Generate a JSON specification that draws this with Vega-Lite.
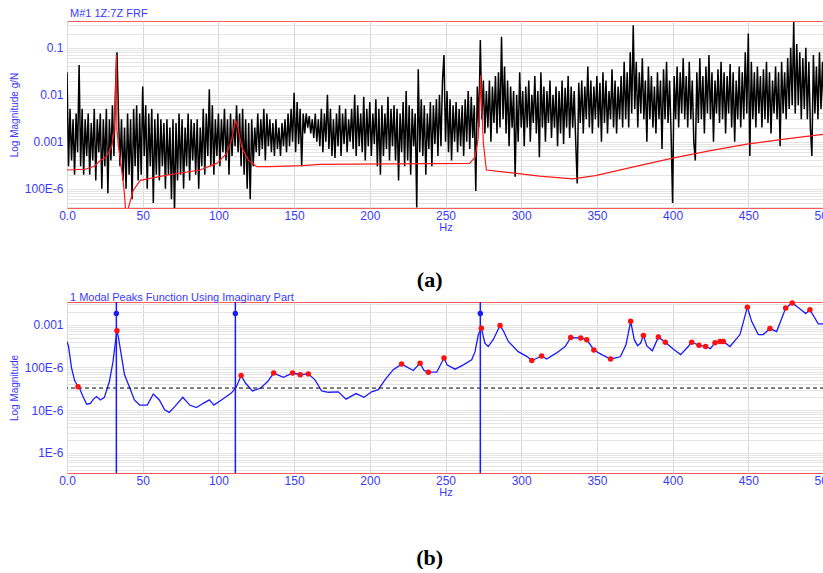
{
"$schema": "https://vega.github.io/schema/vega-lite/v6.json",
"background": "white",
"padding": {"left": 8, "top": 7, "right": 0, "bottom": 0},
"spacing": 0,
"config": {
  "view": {"stroke": "#ff5a5a", "strokeWidth": 1},
  "font": "Liberation Sans",
  "axis": {"labelColor": "#3a3aff", "titleColor": "#3a3aff", "labelFont": "Liberation Sans", "titleFont": "Liberation Sans", "labelFontSize": 12, "titleFontSize": 10, "titleFontWeight": "normal", "ticks": false, "domain": false, "gridColor": "#e4e4e4", "gridWidth": 1, "labelOverlap": false},
  "axisX": {"labelPadding": 2, "titlePadding": 0, "titleFontSize": 11, "gridColor": "#d8d8d8", "labelFlush": false, "labelBound": false},
  "axisY": {"labelPadding": 4, "titlePadding": 5}
},
"datasets": {
  "black": [
{"f":0,"v":0.03},{"f":1,"v":3e-4},{"f":2,"v":5e-3},{"f":3,"v":4e-4},{"f":4,"v":3e-3},{"f":5,"v":2e-4},{"f":6,"v":4e-3},{"f":7,"v":6e-4},{"f":8,"v":0.043},{"f":9,"v":3e-4},
{"f":10,"v":5e-3},{"f":11,"v":2e-4},{"f":12,"v":3e-3},{"f":13,"v":5e-4},{"f":14,"v":4e-3},{"f":15,"v":2e-4},{"f":16,"v":2.5e-3},{"f":17,"v":4e-4},{"f":18,"v":5e-3},{"f":19,"v":1.5e-4},
{"f":20,"v":3e-3},{"f":21,"v":6e-4},{"f":22,"v":4e-3},{"f":23,"v":1e-4},{"f":24,"v":3e-3},{"f":25,"v":3e-4},{"f":26,"v":5e-3},{"f":27,"v":8e-5},{"f":28,"v":3e-3},{"f":29,"v":4e-4},
{"f":30,"v":6e-3},{"f":31,"v":5e-4},{"f":32,"v":0.012},{"f":33,"v":0.08},{"f":34,"v":4e-3},{"f":35,"v":3e-4},{"f":36,"v":3e-3},{"f":37,"v":1.5e-4},{"f":38,"v":2e-3},{"f":39,"v":1e-4},
{"f":40,"v":4e-3},{"f":41,"v":2e-4},{"f":42,"v":3e-3},{"f":43,"v":6e-5},{"f":44,"v":5e-3},{"f":45,"v":3e-4},{"f":46,"v":6e-3},{"f":47,"v":1.5e-4},{"f":48,"v":4e-3},{"f":49,"v":2e-4},
{"f":50,"v":0.015},{"f":51,"v":5e-4},{"f":52,"v":6e-3},{"f":53,"v":1e-4},{"f":54,"v":4e-3},{"f":55,"v":3e-4},{"f":56,"v":5e-3},{"f":57,"v":5e-5},{"f":58,"v":3e-3},{"f":59,"v":2e-4},
{"f":60,"v":4e-3},{"f":61,"v":1.5e-4},{"f":62,"v":3e-3},{"f":63,"v":3e-4},{"f":64,"v":2.5e-3},{"f":65,"v":1e-4},{"f":66,"v":3e-3},{"f":67,"v":2e-4},{"f":68,"v":2e-3},{"f":69,"v":6e-5},
{"f":70,"v":3e-3},{"f":71,"v":3e-5},{"f":72,"v":2.5e-3},{"f":73,"v":1.5e-4},{"f":74,"v":4e-3},{"f":75,"v":2e-4},{"f":76,"v":3e-3},{"f":77,"v":1e-4},{"f":78,"v":2e-3},{"f":79,"v":3e-4},
{"f":80,"v":4e-3},{"f":81,"v":1.5e-4},{"f":82,"v":3e-3},{"f":83,"v":4e-4},{"f":84,"v":2.5e-3},{"f":85,"v":2e-4},{"f":86,"v":3e-3},{"f":87,"v":1e-4},{"f":88,"v":2e-3},{"f":89,"v":3e-4},
{"f":90,"v":5e-3},{"f":91,"v":2e-4},{"f":92,"v":4e-3},{"f":93,"v":5e-4},{"f":94,"v":0.013},{"f":95,"v":3e-4},{"f":96,"v":6e-3},{"f":97,"v":2e-4},{"f":98,"v":3e-3},{"f":99,"v":5e-4},
{"f":100,"v":4e-3},{"f":101,"v":3e-4},{"f":102,"v":3e-3},{"f":103,"v":6e-4},{"f":104,"v":5e-3},{"f":105,"v":4e-4},{"f":106,"v":3e-3},{"f":107,"v":2e-4},{"f":108,"v":4e-3},{"f":109,"v":5e-4},
{"f":110,"v":3e-3},{"f":111,"v":8e-4},{"f":112,"v":6e-3},{"f":113,"v":6e-4},{"f":114,"v":4e-3},{"f":115,"v":3e-4},{"f":116,"v":5e-3},{"f":117,"v":2e-4},{"f":118,"v":3e-3},{"f":119,"v":1e-4},
{"f":120,"v":2.5e-3},{"f":121,"v":6e-5},{"f":122,"v":3e-3},{"f":123,"v":3e-4},{"f":124,"v":2e-3},{"f":125,"v":6e-4},{"f":126,"v":4e-3},{"f":127,"v":5e-4},{"f":128,"v":3e-3},{"f":129,"v":7e-4},
{"f":130,"v":5e-3},{"f":131,"v":4e-4},{"f":132,"v":4e-3},{"f":133,"v":8e-4},{"f":134,"v":3e-3},{"f":135,"v":6e-4},{"f":136,"v":2.5e-3},{"f":137,"v":5e-4},{"f":138,"v":3e-3},{"f":139,"v":7e-4},
{"f":140,"v":2e-3},{"f":141,"v":5e-4},{"f":142,"v":2.5e-3},{"f":143,"v":8e-4},{"f":144,"v":3e-3},{"f":145,"v":6e-4},{"f":146,"v":4e-3},{"f":147,"v":8e-4},{"f":148,"v":5e-3},{"f":149,"v":1e-3},
{"f":150,"v":0.011},{"f":151,"v":6e-4},{"f":152,"v":7e-3},{"f":153,"v":9e-4},{"f":154,"v":5e-3},{"f":155,"v":3e-4},{"f":156,"v":4e-3},{"f":157,"v":1.5e-3},{"f":158,"v":4e-3},{"f":159,"v":2e-3},
{"f":160,"v":3.5e-3},{"f":161,"v":1.5e-3},{"f":162,"v":3e-3},{"f":163,"v":1.2e-3},{"f":164,"v":4e-3},{"f":165,"v":1e-3},{"f":166,"v":3e-3},{"f":167,"v":8e-4},{"f":168,"v":5e-3},{"f":169,"v":6e-4},
{"f":170,"v":4e-3},{"f":171,"v":1e-3},{"f":172,"v":0.01},{"f":173,"v":7e-4},{"f":174,"v":5e-3},{"f":175,"v":5e-4},{"f":176,"v":3e-3},{"f":177,"v":4.5e-4},{"f":178,"v":4e-3},{"f":179,"v":8e-4},
{"f":180,"v":6e-3},{"f":181,"v":5e-4},{"f":182,"v":4e-3},{"f":183,"v":9e-4},{"f":184,"v":5e-3},{"f":185,"v":6e-4},{"f":186,"v":3e-3},{"f":187,"v":1e-3},{"f":188,"v":5e-3},{"f":189,"v":7e-4},
{"f":190,"v":0.01},{"f":191,"v":5e-4},{"f":192,"v":6e-3},{"f":193,"v":8e-4},{"f":194,"v":4e-3},{"f":195,"v":6e-4},{"f":196,"v":9e-3},{"f":197,"v":4e-4},{"f":198,"v":5e-3},{"f":199,"v":8e-4},
{"f":200,"v":7e-3},{"f":201,"v":5e-4},{"f":202,"v":4e-3},{"f":203,"v":9e-4},{"f":204,"v":8e-3},{"f":205,"v":3e-4},{"f":206,"v":5e-3},{"f":207,"v":2e-4},{"f":208,"v":6e-3},{"f":209,"v":5e-4},
{"f":210,"v":4e-3},{"f":211,"v":7e-4},{"f":212,"v":9e-3},{"f":213,"v":4e-4},{"f":214,"v":5e-3},{"f":215,"v":8e-4},{"f":216,"v":6e-3},{"f":217,"v":4e-4},{"f":218,"v":5e-3},{"f":219,"v":1.5e-4},
{"f":220,"v":4e-3},{"f":221,"v":6e-4},{"f":222,"v":7e-3},{"f":223,"v":3e-4},{"f":224,"v":0.012},{"f":225,"v":4e-4},{"f":226,"v":6e-3},{"f":227,"v":2e-4},{"f":228,"v":5e-3},{"f":229,"v":8e-4},
{"f":230,"v":4e-3},{"f":231,"v":4e-5},{"f":232,"v":0.035},{"f":233,"v":6e-4},{"f":234,"v":8e-3},{"f":235,"v":5e-4},{"f":236,"v":6e-3},{"f":237,"v":2e-4},{"f":238,"v":4e-3},{"f":239,"v":7e-4},
{"f":240,"v":7e-3},{"f":241,"v":3e-4},{"f":242,"v":6e-3},{"f":243,"v":9e-4},{"f":244,"v":8e-3},{"f":245,"v":5e-4},{"f":246,"v":0.01},{"f":247,"v":8e-4},{"f":248,"v":0.02},{"f":249,"v":0.07},
{"f":250,"v":1e-3},{"f":251,"v":0.012},{"f":252,"v":6e-4},{"f":253,"v":8e-3},{"f":254,"v":4e-4},{"f":255,"v":6e-3},{"f":256,"v":1e-3},{"f":257,"v":7e-3},{"f":258,"v":6e-4},{"f":259,"v":5e-3},
{"f":260,"v":8e-4},{"f":261,"v":6e-3},{"f":262,"v":5e-4},{"f":263,"v":8e-3},{"f":264,"v":1e-3},{"f":265,"v":0.012},{"f":266,"v":7e-4},{"f":267,"v":9e-3},{"f":268,"v":1.2e-3},{"f":269,"v":6e-3},
{"f":270,"v":9e-5},{"f":271,"v":0.015},{"f":272,"v":2e-3},{"f":273,"v":0.145},{"f":274,"v":3e-3},{"f":275,"v":0.02},{"f":276,"v":1.5e-3},{"f":277,"v":0.012},{"f":278,"v":2e-3},{"f":279,"v":0.02},
{"f":280,"v":1e-3},{"f":281,"v":0.015},{"f":282,"v":2.5e-3},{"f":283,"v":0.025},{"f":284,"v":1.5e-3},{"f":285,"v":0.03},{"f":286,"v":2e-3},{"f":287,"v":0.17},{"f":288,"v":3e-3},{"f":289,"v":0.04},
{"f":290,"v":1.5e-3},{"f":291,"v":0.02},{"f":292,"v":8e-4},{"f":293,"v":0.015},{"f":294,"v":2e-3},{"f":295,"v":0.012},{"f":296,"v":1.8e-4},{"f":297,"v":0.01},{"f":298,"v":1e-3},{"f":299,"v":0.03},
{"f":300,"v":2e-3},{"f":301,"v":0.012},{"f":302,"v":8e-4},{"f":303,"v":0.015},{"f":304,"v":2e-3},{"f":305,"v":0.02},{"f":306,"v":1e-3},{"f":307,"v":0.01},{"f":308,"v":2.5e-3},{"f":309,"v":0.025},
{"f":310,"v":1.5e-3},{"f":311,"v":0.012},{"f":312,"v":4.7e-4},{"f":313,"v":0.03},{"f":314,"v":2e-3},{"f":315,"v":0.015},{"f":316,"v":1e-3},{"f":317,"v":0.012},{"f":318,"v":2.5e-3},{"f":319,"v":0.02},
{"f":320,"v":1.2e-3},{"f":321,"v":0.01},{"f":322,"v":2e-3},{"f":323,"v":0.015},{"f":324,"v":8e-4},{"f":325,"v":0.012},{"f":326,"v":1.5e-3},{"f":327,"v":0.02},{"f":328,"v":9e-4},{"f":329,"v":0.014},
{"f":330,"v":2e-3},{"f":331,"v":0.025},{"f":332,"v":1.2e-3},{"f":333,"v":0.015},{"f":334,"v":2e-3},{"f":335,"v":0.012},{"f":336,"v":1e-3},{"f":337,"v":1.3e-4},{"f":338,"v":0.018},{"f":339,"v":2.5e-3},
{"f":340,"v":0.02},{"f":341,"v":1.5e-3},{"f":342,"v":0.015},{"f":343,"v":3e-3},{"f":344,"v":0.04},{"f":345,"v":2e-3},{"f":346,"v":0.02},{"f":347,"v":1.5e-3},{"f":348,"v":0.015},{"f":349,"v":3e-3},
{"f":350,"v":0.025},{"f":351,"v":2e-3},{"f":352,"v":0.018},{"f":353,"v":1e-3},{"f":354,"v":0.03},{"f":355,"v":2.5e-3},{"f":356,"v":0.02},{"f":357,"v":1.5e-3},{"f":358,"v":0.012},{"f":359,"v":3e-3},
{"f":360,"v":0.035},{"f":361,"v":2e-3},{"f":362,"v":0.02},{"f":363,"v":1.5e-3},{"f":364,"v":0.015},{"f":365,"v":3e-3},{"f":366,"v":0.025},{"f":367,"v":2e-3},{"f":368,"v":0.05},{"f":369,"v":3e-3},
{"f":370,"v":0.03},{"f":371,"v":2e-3},{"f":372,"v":0.08},{"f":373,"v":4e-3},{"f":374,"v":0.3},{"f":375,"v":5e-3},{"f":376,"v":0.05},{"f":377,"v":2e-3},{"f":378,"v":0.03},{"f":379,"v":4e-3},
{"f":380,"v":0.06},{"f":381,"v":3e-3},{"f":382,"v":0.02},{"f":383,"v":1e-3},{"f":384,"v":0.04},{"f":385,"v":3e-3},{"f":386,"v":0.025},{"f":387,"v":2e-3},{"f":388,"v":0.015},{"f":389,"v":1.5e-3},
{"f":390,"v":0.03},{"f":391,"v":3e-3},{"f":392,"v":0.02},{"f":393,"v":7e-4},{"f":394,"v":0.035},{"f":395,"v":3e-3},{"f":396,"v":0.05},{"f":397,"v":2.5e-3},{"f":398,"v":0.02},{"f":399,"v":1.5e-3},
{"f":400,"v":5e-5},{"f":401,"v":0.025},{"f":402,"v":3e-3},{"f":403,"v":0.04},{"f":404,"v":2e-3},{"f":405,"v":0.03},{"f":406,"v":4e-3},{"f":407,"v":0.06},{"f":408,"v":3e-3},{"f":409,"v":0.025},
{"f":410,"v":2e-3},{"f":411,"v":0.05},{"f":412,"v":3e-3},{"f":413,"v":0.02},{"f":414,"v":1e-3},{"f":415,"v":4e-4},{"f":416,"v":0.03},{"f":417,"v":2.5e-3},{"f":418,"v":0.06},{"f":419,"v":3e-3},
{"f":420,"v":0.025},{"f":421,"v":1.5e-3},{"f":422,"v":0.04},{"f":423,"v":4e-3},{"f":424,"v":0.07},{"f":425,"v":3e-3},{"f":426,"v":0.03},{"f":427,"v":1e-3},{"f":428,"v":0.02},{"f":429,"v":4e-3},
{"f":430,"v":0.035},{"f":431,"v":2.5e-3},{"f":432,"v":0.05},{"f":433,"v":3e-3},{"f":434,"v":0.03},{"f":435,"v":1.5e-3},{"f":436,"v":0.025},{"f":437,"v":4e-3},{"f":438,"v":0.045},{"f":439,"v":2e-3},
{"f":440,"v":0.03},{"f":441,"v":1e-3},{"f":442,"v":0.02},{"f":443,"v":3e-3},{"f":444,"v":0.04},{"f":445,"v":2e-3},{"f":446,"v":0.03},{"f":447,"v":3e-3},{"f":448,"v":0.08},{"f":449,"v":4e-3},
{"f":450,"v":0.2},{"f":451,"v":5e-4},{"f":452,"v":0.05},{"f":453,"v":3e-3},{"f":454,"v":0.03},{"f":455,"v":2e-3},{"f":456,"v":0.04},{"f":457,"v":4e-3},{"f":458,"v":0.025},{"f":459,"v":2e-3},
{"f":460,"v":0.035},{"f":461,"v":3e-3},{"f":462,"v":0.05},{"f":463,"v":2.5e-3},{"f":464,"v":0.03},{"f":465,"v":1.5e-3},{"f":466,"v":0.02},{"f":467,"v":4e-3},{"f":468,"v":0.04},{"f":469,"v":3e-3},
{"f":470,"v":0.03},{"f":471,"v":8e-4},{"f":472,"v":0.05},{"f":473,"v":4e-3},{"f":474,"v":0.03},{"f":475,"v":3e-3},{"f":476,"v":0.06},{"f":477,"v":5e-3},{"f":478,"v":0.1},{"f":479,"v":6e-3},
{"f":480,"v":0.35},{"f":481,"v":4e-3},{"f":482,"v":0.12},{"f":483,"v":6e-3},{"f":484,"v":0.08},{"f":485,"v":3e-3},{"f":486,"v":0.06},{"f":487,"v":5e-3},{"f":488,"v":0.1},{"f":489,"v":3e-3},
{"f":490,"v":0.05},{"f":491,"v":2e-3},{"f":492,"v":5e-4},{"f":493,"v":0.07},{"f":494,"v":4e-3},{"f":495,"v":0.04},{"f":496,"v":3e-3},{"f":497,"v":0.08},{"f":498,"v":5e-3},{"f":499,"v":0.05},
{"f":500,"v":4e-3}
  ],
  "redA": [
{"f":0,"v":2.51e-4},{"f":12,"v":2.6e-4},{"f":18,"v":3.0e-4},{"f":22,"v":4.0e-4},{"f":26,"v":4.8e-4},{"f":29.5,"v":7.9e-4},{"f":31,"v":1.5e-3},{"f":32,"v":7.8e-3},{"f":32.6,"v":0.07},{"f":33,"v":1.8e-3},{"f":34,"v":8e-4},{"f":35,"v":4.8e-4},{"f":36.5,"v":2e-4},{"f":37.5,"v":1.1e-4},{"f":38.6,"v":4e-5},{"f":39.2,"v":1e-5},{"f":39.8,"v":1e-5},{"f":40.5,"v":3.9e-5},{"f":43.8,"v":9.3e-5},{"f":48.4,"v":1.51e-4},{"f":65.8,"v":1.95e-4},{"f":87.8,"v":2.51e-4},{"f":98.9,"v":3.47e-4},{"f":105.5,"v":5.62e-4},{"f":108.8,"v":1.1e-3},{"f":111.2,"v":2.88e-3},{"f":112.5,"v":2.29e-3},{"f":115.4,"v":7.76e-4},{"f":119.8,"v":4.07e-4},{"f":125.3,"v":2.95e-4},{"f":134,"v":2.95e-4},{"f":155,"v":3.1e-4},{"f":167,"v":3.31e-4},{"f":266,"v":3.47e-4},{"f":269.5,"v":4.68e-4},{"f":271.5,"v":1.1e-3},{"f":272.5,"v":5e-3},{"f":273.2,"v":0.026},{"f":274,"v":5e-3},{"f":275,"v":9.3e-4},{"f":277,"v":2.51e-4},{"f":288,"v":2.29e-4},{"f":312,"v":1.86e-4},{"f":334,"v":1.62e-4},{"f":349,"v":1.91e-4},{"f":375,"v":2.95e-4},{"f":400,"v":4.47e-4},{"f":425,"v":6.46e-4},{"f":449,"v":8.91e-4},{"f":475,"v":1.15e-3},{"f":500,"v":1.45e-3}
  ],
  "blueB": [
{"f":0,"v":3.98e-4},{"f":1,"v":3.16e-4},{"f":3,"v":9.77e-5},{"f":5,"v":5.01e-5},{"f":7.3,"v":3.55e-5},{"f":8.5,"v":3.16e-5},{"f":10,"v":2.29e-5},{"f":13,"v":1.38e-5},{"f":15.5,"v":1.45e-5},{"f":17.5,"v":1.82e-5},{"f":19.5,"v":2.09e-5},{"f":22,"v":1.74e-5},{"f":24.7,"v":2.0e-5},{"f":28,"v":4.68e-5},{"f":30.4,"v":1.38e-4},{"f":32,"v":3.98e-4},{"f":33,"v":7.24e-4},{"f":34,"v":5.01e-4},{"f":35.5,"v":2.34e-4},{"f":38,"v":6.76e-5},{"f":41.5,"v":3.31e-5},{"f":44.5,"v":1.74e-5},{"f":48,"v":1.32e-5},{"f":53,"v":1.32e-5},{"f":57,"v":2.40e-5},{"f":61,"v":1.74e-5},{"f":64.5,"v":1.02e-5},{"f":67.5,"v":8.91e-6},{"f":71,"v":1.2e-5},{"f":76.5,"v":2.0e-5},{"f":81,"v":1.32e-5},{"f":85.5,"v":1.15e-5},{"f":90,"v":1.45e-5},{"f":94,"v":1.74e-5},{"f":97,"v":1.32e-5},{"f":102,"v":1.74e-5},{"f":108.5,"v":2.51e-5},{"f":111.5,"v":3.31e-5},{"f":115,"v":6.46e-5},{"f":118,"v":4.27e-5},{"f":122.5,"v":2.82e-5},{"f":128,"v":3.31e-5},{"f":132.5,"v":4.68e-5},{"f":136.5,"v":7.41e-5},{"f":142.9,"v":5.89e-5},{"f":149,"v":7.41e-5},{"f":154,"v":6.76e-5},{"f":159.4,"v":7.08e-5},{"f":163.8,"v":5.13e-5},{"f":168.2,"v":2.82e-5},{"f":172.6,"v":2.63e-5},{"f":179.2,"v":2.69e-5},{"f":184.3,"v":1.82e-5},{"f":190.9,"v":2.45e-5},{"f":196.2,"v":2.0e-5},{"f":201.2,"v":2.69e-5},{"f":205.6,"v":3.02e-5},{"f":210,"v":5.13e-5},{"f":215.5,"v":8.91e-5},{"f":221,"v":1.2e-4},{"f":228.7,"v":8.51e-5},{"f":233.2,"v":1.26e-4},{"f":235.8,"v":8.51e-5},{"f":238.7,"v":7.76e-5},{"f":244.2,"v":7.76e-5},{"f":249,"v":1.66e-4},{"f":251,"v":1.15e-4},{"f":256.3,"v":9.12e-5},{"f":261.8,"v":1.15e-4},{"f":267.3,"v":1.51e-4},{"f":269.5,"v":2.34e-4},{"f":271.7,"v":5.89e-4},{"f":273.7,"v":8.32e-4},{"f":276,"v":3.72e-4},{"f":278.2,"v":3.09e-4},{"f":281.5,"v":4.47e-4},{"f":286,"v":9.55e-4},{"f":288.2,"v":7.24e-4},{"f":291.5,"v":4.07e-4},{"f":298,"v":2.34e-4},{"f":303.6,"v":1.82e-4},{"f":307,"v":1.45e-4},{"f":310,"v":1.62e-4},{"f":313.5,"v":1.86e-4},{"f":316.8,"v":1.58e-4},{"f":323.4,"v":2.19e-4},{"f":329,"v":3.09e-4},{"f":332.7,"v":5.01e-4},{"f":339.3,"v":4.9e-4},{"f":343.3,"v":4.47e-4},{"f":348,"v":2.57e-4},{"f":353.2,"v":2.0e-4},{"f":359,"v":1.58e-4},{"f":365.5,"v":1.78e-4},{"f":369.2,"v":3.39e-4},{"f":372.3,"v":1.2e-3},{"f":374.7,"v":4.47e-4},{"f":376.9,"v":3.24e-4},{"f":378.9,"v":3.72e-4},{"f":380.7,"v":5.62e-4},{"f":382.9,"v":3.24e-4},{"f":386.6,"v":2.45e-4},{"f":390.6,"v":5.13e-4},{"f":395.2,"v":3.89e-4},{"f":400.4,"v":2.69e-4},{"f":405.3,"v":2.0e-4},{"f":409.3,"v":2.82e-4},{"f":412.6,"v":3.89e-4},{"f":417.4,"v":3.31e-4},{"f":421.8,"v":3.09e-4},{"f":425,"v":2.75e-4},{"f":428,"v":3.8e-4},{"f":431.3,"v":4.07e-4},{"f":433.5,"v":4.07e-4},{"f":437.9,"v":3.09e-4},{"f":444.5,"v":5.89e-4},{"f":449.4,"v":2.57e-3},{"f":452.2,"v":1.2e-3},{"f":456.6,"v":5.89e-4},{"f":459.9,"v":5.89e-4},{"f":464.3,"v":8.13e-4},{"f":468.7,"v":6.92e-4},{"f":474.7,"v":2.45e-3},{"f":479,"v":3.24e-3},{"f":484.2,"v":2.34e-3},{"f":487.9,"v":1.82e-3},{"f":490.7,"v":2.24e-3},{"f":496.2,"v":1.05e-3},{"f":500,"v":1.05e-3}
  ],
  "peaks": [
{"f":7.3,"v":3.55e-5},{"f":33,"v":7.24e-4},{"f":115,"v":6.46e-5},{"f":136.5,"v":7.41e-5},{"f":149,"v":7.41e-5},{"f":154,"v":6.76e-5},{"f":159.4,"v":7.08e-5},{"f":221,"v":1.2e-4},{"f":233.2,"v":1.26e-4},{"f":238.7,"v":7.76e-5},{"f":249,"v":1.66e-4},{"f":273.7,"v":8.32e-4},{"f":286,"v":9.55e-4},{"f":307,"v":1.45e-4},{"f":313.5,"v":1.86e-4},{"f":332.7,"v":5.01e-4},{"f":339.3,"v":4.9e-4},{"f":343.3,"v":4.47e-4},{"f":348,"v":2.57e-4},{"f":359,"v":1.58e-4},{"f":372.3,"v":1.2e-3},{"f":380.7,"v":5.62e-4},{"f":390.6,"v":5.13e-4},{"f":395.2,"v":3.89e-4},{"f":412.6,"v":3.89e-4},{"f":417.4,"v":3.31e-4},{"f":421.8,"v":3.09e-4},{"f":428,"v":3.8e-4},{"f":431.3,"v":4.07e-4},{"f":433.5,"v":4.07e-4},{"f":449.4,"v":2.57e-3},{"f":464.3,"v":8.13e-4},{"f":474.7,"v":2.45e-3},{"f":479,"v":3.24e-3},{"f":490.7,"v":2.24e-3}
  ],
  "modes": [
{"f":32.6,"v":1.84e-3},{"f":111.2,"v":1.84e-3},{"f":273,"v":1.84e-3}
  ]
},
"vconcat": [
  {
    "title": {"text": "(a)", "orient": "bottom", "anchor": "middle", "font": "Liberation Serif", "fontSize": 22, "fontWeight": "bold", "color": "black", "offset": 37, "dx": 8},
    "vconcat": [
      {
        "title": {"text": "M#1 1Z:7Z FRF", "anchor": "start", "frame": "group", "font": "Liberation Sans", "fontSize": 11, "fontWeight": "normal", "color": "#3a3aff", "offset": 0, "dx": 3},
        "width": 757,
        "height": 187,
        "layer": [
          {
            "data": {"name": "black"},
            "mark": {"type": "line", "color": "black", "strokeWidth": 1.5, "clip": true},
            "encoding": {
              "x": {"field": "f", "type": "quantitative", "scale": {"domain": [0, 500], "nice": false}, "axis": {"title": "Hz", "values": [0,50,100,150,200,250,300,350,400,450,500], "labelExpr": "datum.value == 0 ? '0.0' : datum.label"}},
              "y": {"field": "v", "type": "quantitative", "scale": {"type": "log", "domain": [3.9e-5, 0.37], "nice": false}, "axis": {"title": "Log Magnitude g/N", "values": [4e-5,5e-5,6e-5,7e-5,8e-5,9e-5,1e-4,2e-4,3e-4,4e-4,5e-4,6e-4,7e-4,8e-4,9e-4,0.001,0.002,0.003,0.004,0.005,0.006,0.007,0.008,0.009,0.01,0.02,0.03,0.04,0.05,0.06,0.07,0.08,0.09,0.1,0.2,0.3], "labelExpr": "datum.value == 0.1 ? '0.1' : datum.value == 0.01 ? '0.01' : datum.value == 0.001 ? '0.001' : datum.value == 1e-4 ? '100E-6' : ''"}}
            }
          },
          {
            "data": {"name": "redA"},
            "mark": {"type": "line", "color": "#ff1a1a", "strokeWidth": 1.2, "clip": true},
            "encoding": {
              "x": {"field": "f", "type": "quantitative"},
              "y": {"field": "v", "type": "quantitative"}
            }
          }
        ]
      }
    ]
  },
  {
    "title": {"text": "(b)", "orient": "bottom", "anchor": "middle", "font": "Liberation Serif", "fontSize": 22, "fontWeight": "bold", "color": "black", "offset": 50, "dx": 8},
    "vconcat": [
      {
        "title": {"text": "1 Modal Peaks Function Using Imaginary Part", "anchor": "start", "frame": "group", "font": "Liberation Sans", "fontSize": 11, "fontWeight": "normal", "color": "#3a3aff", "offset": -5, "dx": 3},
        "width": 757,
        "height": 171,
        "layer": [
          {
            "data": {"name": "blueB"},
            "mark": {"type": "line", "color": "#1a1aff", "strokeWidth": 1.3, "clip": true},
            "encoding": {
              "x": {"field": "f", "type": "quantitative", "scale": {"domain": [0, 500], "nice": false}, "axis": {"title": "Hz", "values": [0,50,100,150,200,250,300,350,400,450,500], "labelExpr": "datum.value == 0 ? '0.0' : datum.label"}},
              "y": {"field": "v", "type": "quantitative", "scale": {"type": "log", "domain": [3.4e-7, 3.4e-3], "nice": false}, "axis": {"title": "Log Magnitude", "values": [4e-7,5e-7,6e-7,7e-7,8e-7,9e-7,1e-6,2e-6,3e-6,4e-6,5e-6,6e-6,7e-6,8e-6,9e-6,1e-5,2e-5,3e-5,4e-5,5e-5,6e-5,7e-5,8e-5,9e-5,1e-4,2e-4,3e-4,4e-4,5e-4,6e-4,7e-4,8e-4,9e-4,0.001,0.002,0.003], "labelExpr": "datum.value == 0.001 ? '0.001' : datum.value == 1e-4 ? '100E-6' : datum.value == 1e-5 ? '10E-6' : datum.value == 1e-6 ? '1E-6' : ''"}}
            }
          },
          {
            "data": {"values": [{}]},
            "mark": {"type": "rule", "color": "black", "strokeDash": [4, 3], "strokeWidth": 1},
            "encoding": {"y": {"datum": 3.3e-5, "type": "quantitative"}}
          },
          {
            "data": {"name": "modes"},
            "mark": {"type": "rule", "color": "#1a1aff", "strokeWidth": 1.5},
            "encoding": {"x": {"field": "f", "type": "quantitative"}}
          },
          {
            "data": {"name": "modes"},
            "mark": {"type": "point", "filled": true, "color": "#1a1aff", "size": 30, "opacity": 1},
            "encoding": {"x": {"field": "f", "type": "quantitative"}, "y": {"field": "v", "type": "quantitative"}}
          },
          {
            "data": {"name": "peaks"},
            "mark": {"type": "point", "filled": true, "color": "#ff1010", "size": 30, "opacity": 1},
            "encoding": {"x": {"field": "f", "type": "quantitative"}, "y": {"field": "v", "type": "quantitative"}}
          }
        ]
      }
    ]
  }
]
}
